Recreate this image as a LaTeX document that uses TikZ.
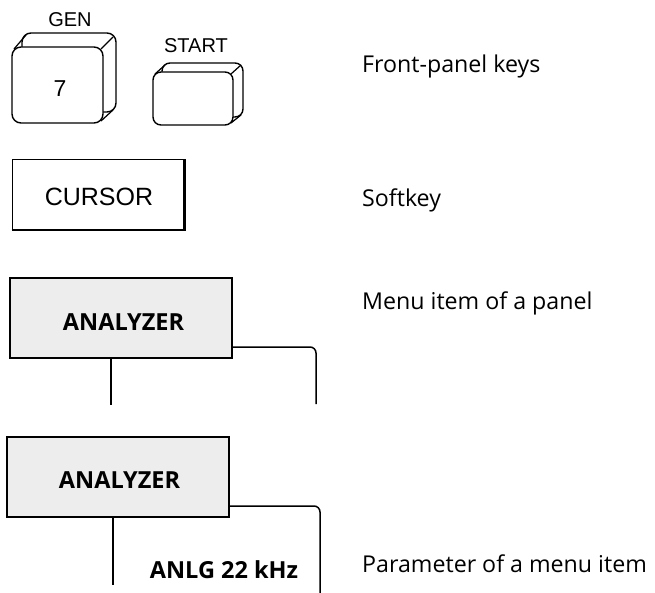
\documentclass[tikz,border=0pt]{standalone}
\usepackage{fontspec}
\setmainfont{Open Sans}
\newfontfamily\keyfont{Liberation Sans}
\begin{document}
\begin{tikzpicture}[x=1pt,y=-1pt,
  keyline/.style={line width=1.4pt, fill=white, rounded corners=9pt, line join=round},
  keyedge/.style={line width=1.2pt},
  keytext/.style={inner sep=0pt, anchor=base, font=\keyfont\fontsize{20}{24}\selectfont},
  menubox/.style={line width=1.7pt, fill=black!7},
  conn/.style={line width=1.5pt, rounded corners=6pt},
  boldtext/.style={inner sep=0pt, anchor=base, font=\bfseries\fontsize{23.5}{28}\selectfont},
  label/.style={inner sep=0pt, anchor=base west, font=\fontsize{23.2}{28}\selectfont}]
\useasboundingbox (0,0) rectangle (655,593);
% GEN key
\draw[keyline] (22,33) rectangle (116,112);
\draw[keyedge] (14,49) -- (26,35);
\draw[keyedge] (101,49) -- (113,37);
\draw[keyedge] (101,121) -- (113,110);
\draw[keyline] (12,47) rectangle (103,123);
\node[keytext] (gen) at (70,27) {GEN};
\node[keytext, font=\keyfont\fontsize{23}{27}\selectfont] (seven) at (60,97) {7};
% START key
\draw[keyline, rounded corners=8pt] (162,63) rectangle (243,117);
\draw[keyedge] (155,74) -- (165,65);
\draw[keyedge] (231,74) -- (241,65);
\draw[keyedge] (231,123) -- (241,115);
\draw[keyline, rounded corners=8pt] (153,72) rectangle (233,125);
\node[keytext] (start) at (196,53) {START};
% CURSOR softkey
\draw[line width=1pt, fill=white] (12,160) rectangle (184,230);
\draw[line width=3pt] (184,159.5) -- (184,231.5);
\draw[line width=2.5pt] (11.5,230) -- (185.5,230);
\node[keytext, font=\keyfont\fontsize{25}{30}\selectfont] (cursor) at (99,206) {CURSOR};
% Menu item of a panel
\draw[menubox] (10,278) rectangle (232,358);
\node[boldtext] (an1) at (123.5,330) {ANALYZER};
\coordinate (a1r) at (232,347);
\coordinate (a1b) at (111,358);
\coordinate (a1e) at (111,405);
\coordinate (a1f) at (316,404);
\draw[conn] (a1r) -| (a1f);
\draw[conn] (a1b) -- (a1e);
% Parameter of a menu item
\draw[menubox] (7,437) rectangle (229,517);
\node[boldtext] (an2) at (119.5,488) {ANALYZER};
\coordinate (a2r) at (229,506);
\coordinate (a2b) at (113,517);
\coordinate (a2e) at (113,585);
\coordinate (a2f) at (320,593);
\draw[conn] (a2r) -| (a2f);
\draw[conn] (a2b) -- (a2e);
\node[boldtext] (anlg) at (224,578) {ANLG 22 kHz};
% labels
\node[label] (l1) at (362,73) {Front-panel keys};
\node[label] (l2) at (362,207) {Softkey};
\node[label] (l3) at (362,309) {Menu item of a panel};
\node[label] (l4) at (362,572) {Parameter of a menu item};
\end{tikzpicture}
\end{document}
